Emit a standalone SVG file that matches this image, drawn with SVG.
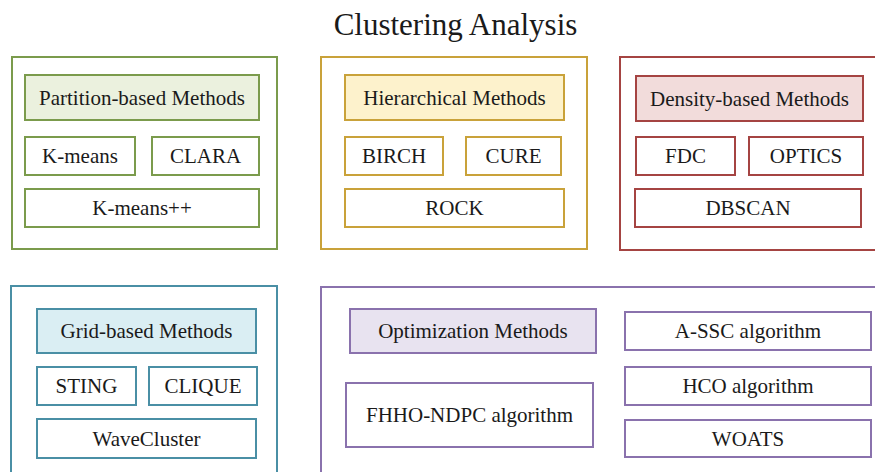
<svg xmlns="http://www.w3.org/2000/svg" width="875" height="472" viewBox="0 0 875 472">
<style>
text{font-family:"Liberation Serif","Times New Roman",serif;font-size:21px;fill:#1a1a1a;text-anchor:middle}
.title{font-size:31px}
rect{stroke-width:2}
.g{stroke:#7b9b4c;fill:#fff}.gh{stroke:#7b9b4c;fill:#ebf1de}
.y{stroke:#c9a23a;fill:#fff}.yh{stroke:#c9a23a;fill:#fdf2cc}
.r{stroke:#a54442;fill:#fff}.rh{stroke:#a54442;fill:#f2dcdb}
.b{stroke:#4a8fa5;fill:#fff}.bh{stroke:#4a8fa5;fill:#daeef3}
.p{stroke:#8a72ad;fill:#fff}.ph{stroke:#8a72ad;fill:#e8e3f0}
</style>
<rect x="0" y="0" width="875" height="472" fill="#fff" stroke="none"/>
<text class="title" x="455.5" y="35">Clustering Analysis</text>

<g id="partition">
<rect class="g" x="12" y="57" width="265" height="192"/>
<rect class="gh" x="25" y="75" width="234" height="45"/><text x="142" y="104.5">Partition-based Methods</text>
<rect class="g" x="25" y="137" width="110" height="38"/><text x="80" y="163">K-means</text>
<rect class="g" x="152" y="137" width="107" height="38"/><text x="205.5" y="163">CLARA</text>
<rect class="g" x="25" y="189" width="234" height="38"/><text x="142" y="215">K-means++</text>
</g>

<g id="hierarchical">
<rect class="y" x="321" y="57" width="266" height="192"/>
<rect class="yh" x="345" y="75" width="219" height="45"/><text x="454.5" y="104.5">Hierarchical Methods</text>
<rect class="y" x="345" y="137" width="98" height="38"/><text x="394" y="163">BIRCH</text>
<rect class="y" x="466" y="137" width="95" height="38"/><text x="513.5" y="163">CURE</text>
<rect class="y" x="345" y="189" width="219" height="38"/><text x="454.5" y="215">ROCK</text>
</g>

<g id="density">
<rect class="r" x="620" y="57" width="270" height="193"/>
<rect class="rh" x="636" y="76" width="227" height="45"/><text x="749.5" y="105.5">Density-based Methods</text>
<rect class="r" x="636" y="137" width="99" height="38"/><text x="685.5" y="163">FDC</text>
<rect class="r" x="749" y="137" width="114" height="38"/><text x="806" y="163">OPTICS</text>
<rect class="r" x="635" y="189" width="226" height="38"/><text x="748" y="215">DBSCAN</text>
</g>

<g id="grid">
<rect class="b" x="11" y="286" width="266" height="200"/>
<rect class="bh" x="37" y="309" width="219" height="44"/><text x="146.5" y="338">Grid-based Methods</text>
<rect class="b" x="37" y="367" width="99" height="38"/><text x="86.5" y="393">STING</text>
<rect class="b" x="149" y="367" width="108" height="38"/><text x="203" y="393">CLIQUE</text>
<rect class="b" x="37" y="419" width="219" height="39"/><text x="146.5" y="445.5">WaveCluster</text>
</g>

<g id="optimization">
<rect class="p" x="321" y="287" width="570" height="200"/>
<rect class="ph" x="350" y="309" width="246" height="44"/><text x="473" y="338">Optimization Methods</text>
<rect class="p" x="346" y="383" width="247" height="64"/><text x="469.5" y="422">FHHO-NDPC algorithm</text>
<rect class="p" x="625" y="312" width="246" height="38"/><text x="748" y="338">A-SSC algorithm</text>
<rect class="p" x="625" y="367" width="246" height="38"/><text x="748" y="393">HCO algorithm</text>
<rect class="p" x="625" y="420" width="246" height="37"/><text x="748" y="445.5">WOATS</text>
</g>

<g id="connectors"/>
</svg>
